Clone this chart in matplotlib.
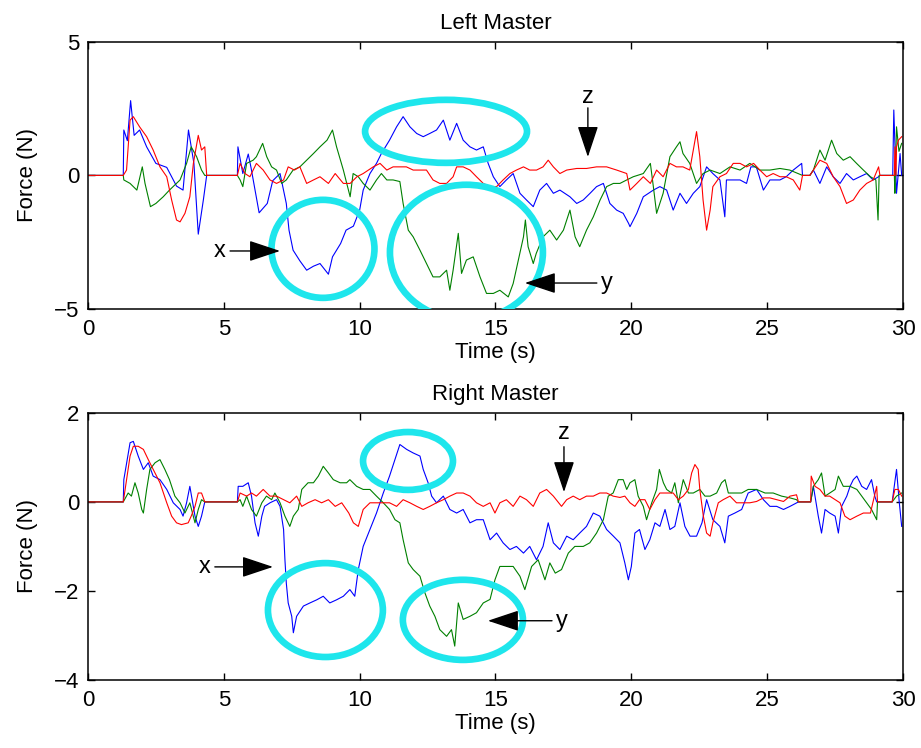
import numpy as np
import matplotlib
matplotlib.use("Agg")
import matplotlib.pyplot as plt
from matplotlib.patches import Ellipse

plt.rcParams["font.family"] = ["Liberation Sans", "DejaVu Sans"]
plt.rcParams["font.size"] = 16

# ============================================================
# DATA (time s, force N)
# ============================================================

left_x = [(0, 0), (1.3, 0), (1.32, 1.7), (1.45, 1.3), (1.57, 2.8), (1.7, 1.5), (1.9, 1.7), (2.16, 1.07),
          (2.5, 0.45), (2.9, 0.3), (3.26, -0.4), (3.5, -0.55), (3.7, 1.7), (3.9, 0.45), (4.06, -2.2),
          (4.25, -0.9), (4.37, 0), (5.5, 0), (5.52, 1.07), (5.7, 0.07), (5.9, 0.8), (6.0, 0.3), (6.3, -1.4),
          (6.6, -1.05), (6.8, -0.2), (7.07, 0.07), (7.3, -1.05), (7.4, -2.05), (7.55, -2.8), (7.8, -3.2),
          (8.05, -3.55), (8.3, -3.4), (8.54, -3.3), (8.85, -3.7), (9.0, -3.05), (9.3, -2.55), (9.5, -2.05),
          (9.77, -1.9), (10.0, -1.3), (10.13, -0.55), (10.38, 0.07), (10.62, 0.45), (10.8, 0.82), (11.1, 1.32),
          (11.36, 1.82), (11.6, 2.2), (11.85, 1.82), (12.1, 1.57), (12.34, 1.45), (12.58, 1.57), (12.83, 1.7),
          (13.08, 2.07), (13.32, 1.32), (13.57, 1.95), (13.81, 1.32), (14.06, 1.07), (14.3, 0.95), (14.55, 1.07),
          (14.73, 0.45), (14.92, -0.05), (15.16, -0.42), (15.4, -0.17), (15.65, 0.07), (15.9, -0.67),
          (16.14, -0.92), (16.39, -1.17), (16.63, -0.55), (16.88, -0.3), (17.13, -0.67), (17.37, -0.55),
          (17.74, -0.8), (17.99, -1.05), (18.23, -0.92), (18.48, -0.67), (18.72, -0.42), (18.97, -0.3),
          (19.21, -1.05), (19.46, -1.3), (19.7, -1.42), (19.9, -1.8), (19.95, -1.92), (20.2, -1.42),
          (20.44, -0.8), (20.81, -0.55), (21.05, -0.42), (21.3, -0.55), (21.54, -1.3), (21.79, -0.67),
          (22.03, -1.05), (22.28, -0.67), (22.52, -0.42), (22.77, 0.32), (23.0, 0.07), (23.26, -0.17),
          (23.44, -1.55), (23.5, -0.17), (23.75, -0.17), (24.0, -0.17), (24.24, -0.3), (24.4, 0.32),
          (24.6, 0.32), (24.86, -0.55), (25.1, -0.17), (25.47, -0.17), (25.7, -0.05), (25.96, 0.2),
          (26.27, 0.45), (26.3, 0), (26.57, 0), (26.7, 0.2), (26.94, -0.3), (27.19, 0.32), (27.43, -0.05),
          (27.68, -0.3), (27.92, 0.07), (28.17, -0.17), (28.41, -0.05), (28.66, 0.07), (28.9, -0.17),
          (29.1, -0.05), (29.15, 0), (29.62, 0), (29.66, 2.45), (29.76, -0.67), (29.89, 0.82), (29.95, 0)]

left_y = [(0, 0), (1.3, 0), (1.32, -0.17), (1.55, -0.3), (1.8, -0.55), (2.0, 0.32), (2.1, -0.3), (2.3, -1.17),
          (2.5, -1.05), (2.77, -0.8), (3.0, -0.55), (3.26, -0.3), (3.39, -0.17), (3.63, 0.45), (3.8, 1.07),
          (4.0, 0.7), (4.18, 0.2), (4.3, 0), (5.5, 0), (5.6, -0.17), (5.7, -0.42), (5.84, 0.45), (6.08, 0.57),
          (6.2, 0.7), (6.43, 1.2), (6.58, 0.7), (6.76, 0.32), (6.94, 0.2), (7.13, -0.3), (7.3, -0.17),
          (7.55, 0.2), (7.8, 0.32), (8.05, 0.57), (8.3, 0.82), (8.54, 1.07), (8.8, 1.32), (9.0, 1.7),
          (9.15, 1.07), (9.4, 0.2), (9.65, -0.8), (9.76, 0.07), (9.95, -0.05), (10.13, -0.3), (10.38, -0.55),
          (10.62, -0.17), (10.8, 0.07), (11.0, -0.17), (11.23, -0.17), (11.48, -0.23), (11.6, -1.05),
          (11.79, -2.05), (11.97, -2.3), (12.22, -2.8), (12.46, -3.3), (12.7, -3.8), (12.95, -3.8),
          (13.2, -3.55), (13.32, -4.3), (13.44, -3.55), (13.63, -2.17), (13.75, -3.67), (13.93, -3.17),
          (14.18, -3.05), (14.43, -3.8), (14.67, -4.42), (14.92, -4.42), (15.16, -4.3), (15.47, -4.55),
          (15.65, -4.05), (15.84, -3.17), (16.03, -2.3), (16.1, -1.67), (16.2, -2.67), (16.39, -3.3),
          (16.5, -2.92), (16.75, -2.3), (17.0, -2.05), (17.25, -2.42), (17.5, -2.05), (17.74, -1.3),
          (17.93, -2.3), (18.1, -2.67), (18.35, -2.05), (18.6, -1.55), (18.85, -0.92), (19.09, -0.42),
          (19.34, -0.3), (19.58, -0.3), (19.83, -0.17), (20.07, -0.05), (20.44, 0.07), (20.7, 0.45),
          (20.81, -0.42), (20.93, -1.42), (21.17, -0.67), (21.42, 0.7), (21.66, 1.07), (21.79, 1.26),
          (21.9, 0.82), (22.15, 0.45), (22.4, -0.3), (22.64, 0.07), (22.9, 0.2), (23.26, 0.07), (23.63, 0.32),
          (24.0, 0.2), (24.36, 0.45), (24.73, 0.2), (25.1, 0.2), (25.47, 0.26), (25.83, 0.2), (26.3, 0),
          (26.57, 0), (26.7, 0.2), (26.94, 0.95), (27.13, 0.57), (27.37, 1.32), (27.56, 0.82), (27.8, 0.57),
          (28.05, 0.7), (28.29, 0.45), (28.54, 0.2), (28.8, -0.05), (29.0, -0.17), (29.08, -1.67), (29.12, 0),
          (29.68, 0), (29.7, -0.67), (29.76, 1.82), (29.85, 0.9), (29.95, 1.2)]

left_z = [(0, 0), (1.3, 0), (1.42, 0.2), (1.55, 2.07), (1.67, 2.2), (1.9, 1.82), (2.16, 1.45), (2.4, 0.95),
          (2.65, 0.32), (2.9, -0.05), (3.08, -0.92), (3.26, -1.67), (3.39, -1.74), (3.57, -1.42), (3.75, -0.8),
          (3.88, 0.45), (4.06, 1.5), (4.18, 0.95), (4.3, 1.07), (4.37, 0), (5.5, 0), (5.6, 0.45), (5.78, 0.07),
          (5.96, -0.05), (6.2, 0.45), (6.45, 0.2), (6.7, -0.17), (6.94, -0.3), (7.2, -0.17), (7.37, 0.32),
          (7.6, 0.2), (7.8, 0.32), (8.05, -0.3), (8.3, -0.17), (8.54, -0.05), (8.85, -0.3), (9.1, 0.07),
          (9.4, -0.3), (9.65, -0.3), (9.9, -0.05), (10.13, 0.07), (10.5, 0.32), (10.75, 0.45), (11.0, 0.2),
          (11.23, 0.32), (11.48, 0.32), (11.72, 0.32), (11.97, 0.2), (12.22, 0.2), (12.46, 0.2), (12.7, -0.17),
          (12.95, -0.3), (13.2, -0.3), (13.44, -0.05), (13.57, 0.32), (13.81, 0.32), (14.06, 0.2), (14.3, -0.05),
          (14.55, -0.3), (14.8, -0.42), (15.04, -0.42), (15.28, -0.17), (15.53, 0.07), (15.77, 0.2),
          (16.03, 0.32), (16.26, 0.2), (16.51, 0.2), (16.75, 0.32), (16.94, 0.57), (17.13, 0.32), (17.37, 0.07),
          (17.62, 0.2), (17.99, 0.26), (18.35, 0.26), (18.72, 0.32), (19.09, 0.32), (19.46, 0.2), (19.83, 0.07),
          (19.95, -0.55), (20.2, -0.3), (20.44, -0.05), (20.7, -0.3), (20.93, 0.2), (21.17, -0.05),
          (21.42, 0.45), (21.66, 0.32), (21.9, 0.32), (22.15, 0.2), (22.28, 0.95), (22.4, 1.64), (22.52, 0.7),
          (22.64, -0.92), (22.77, -2.05), (22.9, -1.3), (23.0, -0.42), (23.26, -0.05), (23.5, 0.07),
          (23.75, 0.45), (24.0, 0.45), (24.24, 0.32), (24.5, 0.45), (24.73, 0.2), (24.98, -0.05), (25.22, 0.07),
          (25.47, -0.05), (25.7, -0.05), (25.96, -0.17), (26.2, -0.55), (26.3, 0), (26.57, 0), (26.7, 0.2),
          (26.94, 0.57), (27.19, 0.45), (27.43, -0.05), (27.68, -0.42), (27.92, -1.05), (28.17, -0.92),
          (28.41, -0.55), (28.66, -0.3), (28.9, -0.17), (29.1, 0.32), (29.15, 0), (29.68, 0), (29.7, 1.07),
          (29.74, 0), (29.76, 1.07), (29.83, 1.32), (29.95, 1.45)]

right_x = [(0, 0), (1.3, 0), (1.32, 0.5), (1.55, 1.33), (1.67, 1.36), (1.85, 1.03), (2.04, 0.73), (2.22, 0.88),
           (2.4, 0.58), (2.65, 0.5), (2.9, 0.28), (3.14, -0.02), (3.39, -0.17), (3.5, -0.32), (3.63, -0.02),
           (3.75, 0.35), (3.94, -0.32), (4.06, -0.55), (4.18, -0.32), (4.3, 0), (5.5, 0), (5.53, 0.35),
           (5.7, 0.35), (5.9, 0.43), (6.02, 0.13), (6.15, -0.47), (6.27, -0.77), (6.4, -0.32), (6.5, -0.1),
           (6.7, -0.02), (6.94, 0.05), (7.07, -0.1), (7.2, -0.62), (7.25, -1.3), (7.3, -1.82), (7.37, -2.27),
           (7.5, -2.57), (7.56, -2.94), (7.68, -2.57), (7.93, -2.34), (8.17, -2.27), (8.42, -2.2), (8.66, -2.12),
           (8.9, -2.27), (9.15, -2.2), (9.4, -2.12), (9.64, -1.97), (9.82, -2.12), (9.95, -1.52), (10.13, -1.0),
           (10.38, -0.62), (10.62, -0.25), (10.87, 0.2), (11.1, 0.58), (11.3, 0.95), (11.48, 1.29), (11.73, 1.18),
           (11.97, 1.1), (12.22, 1.03), (12.34, 0.73), (12.52, 0.43), (12.65, 0.13), (12.83, -0.02), (13.08, 0.13),
           (13.32, -0.17), (13.57, -0.25), (13.81, -0.17), (14.06, -0.47), (14.3, -0.4), (14.55, -0.4),
           (14.8, -0.85), (15.04, -0.7), (15.28, -0.92), (15.53, -1.07), (15.77, -1.0), (16.03, -1.15),
           (16.26, -1.0), (16.51, -1.3), (16.75, -1.0), (16.94, -0.47), (17.13, -0.92), (17.37, -1.07),
           (17.62, -0.77), (17.86, -0.85), (18.1, -0.7), (18.35, -0.55), (18.6, -0.25), (18.84, -0.32),
           (19.09, -0.62), (19.34, -0.77), (19.58, -0.92), (19.76, -1.37), (19.89, -1.75), (20.0, -1.45),
           (20.13, -0.7), (20.3, -0.62), (20.5, -1.07), (20.68, -0.85), (20.87, -0.47), (21.05, -0.55),
           (21.24, -0.17), (21.42, -0.62), (21.6, -0.55), (21.79, -0.02), (21.97, -0.55), (22.16, -0.77),
           (22.4, -0.77), (22.6, -0.47), (22.77, 0.05), (23.0, -0.4), (23.26, -0.55), (23.44, -0.92),
           (23.57, -0.32), (23.81, -0.25), (24.06, -0.17), (24.3, 0.2), (24.61, 0.28), (24.86, 0.05),
           (25.1, -0.1), (25.35, -0.1), (25.6, -0.17), (25.84, -0.1), (26.15, 0), (26.6, 0), (26.7, 0.35),
           (26.88, -0.32), (27.0, -0.7), (27.13, -0.17), (27.3, -0.25), (27.5, -0.32), (27.62, -0.7),
           (27.74, -0.1), (27.93, 0.13), (28.05, 0.35), (28.17, 0.5), (28.3, 0.58), (28.48, 0.35), (28.66, 0.28),
           (28.84, 0.5), (28.96, 0.13), (29.03, 0), (29.6, 0), (29.76, 0.73), (29.86, 0), (29.95, -0.55)]

right_y = [(0, 0), (1.3, 0), (1.48, 0.2), (1.6, 0.13), (1.73, 0.43), (1.85, 0.2), (1.98, -0.17), (2.04, -0.25),
           (2.16, 0.28), (2.28, 0.73), (2.47, 0.88), (2.65, 0.95), (2.83, 0.73), (3.0, 0.5), (3.2, 0.13),
           (3.39, -0.02), (3.57, -0.25), (3.75, -0.02), (3.94, -0.47), (4.06, -0.17), (4.18, 0.05), (4.3, 0),
           (5.5, 0), (5.6, 0.05), (5.7, -0.1), (5.84, 0.13), (6.02, -0.17), (6.2, -0.32), (6.4, -0.02),
           (6.57, 0.13), (6.76, 0.05), (6.88, 0.2), (7.07, -0.02), (7.25, -0.32), (7.43, -0.55), (7.56, -0.32),
           (7.74, -0.17), (7.87, 0.28), (8.1, 0.43), (8.3, 0.43), (8.48, 0.58), (8.66, 0.8), (8.85, 0.65),
           (9.03, 0.5), (9.28, 0.43), (9.52, 0.43), (9.64, 0.5), (9.89, 0.35), (10.13, 0.28), (10.38, 0.28),
           (10.62, 0.13), (10.87, -0.02), (11.1, -0.17), (11.3, -0.4), (11.48, -0.47), (11.6, -0.85),
           (11.79, -1.37), (11.97, -1.52), (12.22, -1.67), (12.4, -2.04), (12.58, -2.34), (12.77, -2.57),
           (12.95, -2.87), (13.2, -3.02), (13.38, -2.87), (13.5, -3.24), (13.63, -2.27), (13.81, -2.64),
           (14.06, -2.57), (14.3, -2.49), (14.55, -2.27), (14.8, -2.19), (14.98, -1.75), (15.16, -1.45),
           (15.4, -1.45), (15.65, -1.45), (15.9, -1.67), (16.08, -1.97), (16.33, -1.45), (16.57, -1.3),
           (16.82, -1.75), (17.0, -1.37), (17.2, -1.6), (17.43, -1.52), (17.68, -1.15), (17.92, -1.0),
           (18.23, -1.0), (18.47, -0.92), (18.72, -0.7), (18.97, -0.4), (19.15, 0.13), (19.33, 0.2),
           (19.52, 0.5), (19.7, 0.5), (19.83, 0.28), (19.95, 0.43), (20.13, 0.5), (20.25, 0.13), (20.44, -0.1),
           (20.56, -0.4), (20.75, -0.02), (20.93, 0.28), (21.03, 0.73), (21.18, 0.43), (21.3, 0.28),
           (21.48, 0.2), (21.6, 0.43), (21.73, -0.02), (21.91, 0.5), (22.1, 0.2), (22.28, 0.2), (22.52, 0.28),
           (22.71, 0.13), (22.9, 0.13), (23.14, 0.2), (23.32, 0.43), (23.45, 0.5), (23.57, 0.2), (23.81, 0.2),
           (24.06, 0.2), (24.3, 0.28), (24.61, 0.28), (24.92, 0.2), (25.22, 0.2), (25.53, 0.13), (25.84, 0.09),
           (26.08, 0.05), (26.15, 0), (26.6, 0), (26.7, 0.35), (26.88, 0.5), (27.0, 0.65), (27.13, 0.13),
           (27.3, 0.2), (27.5, 0.28), (27.62, 0.58), (27.8, 0.35), (28.05, 0.35), (28.3, 0.28), (28.48, 0.13),
           (28.66, -0.02), (28.84, -0.17), (29.03, -0.4), (29.06, 0), (29.6, 0), (29.76, 0.13), (29.95, 0.2)]

right_z = [(0, 0), (1.3, 0), (1.42, 0.5), (1.55, 1.03), (1.67, 1.25), (1.85, 1.25), (2.04, 1.18), (2.22, 0.95),
           (2.4, 0.73), (2.65, 0.43), (2.9, -0.02), (3.08, -0.32), (3.26, -0.47), (3.44, -0.51), (3.69, -0.47),
           (3.8, -0.32), (3.94, -0.1), (4.06, 0.2), (4.18, 0.2), (4.3, 0), (5.5, 0), (5.6, 0.2), (5.84, 0.13),
           (6.02, 0.2), (6.2, 0.13), (6.45, 0.28), (6.7, 0.13), (6.94, 0.13), (7.2, 0.05), (7.43, -0.02),
           (7.68, 0.13), (7.87, -0.1), (8.1, -0.02), (8.36, 0.05), (8.6, -0.02), (8.85, 0.05), (9.1, -0.1),
           (9.34, -0.02), (9.6, -0.25), (9.77, -0.47), (9.95, -0.55), (10.13, -0.17), (10.38, -0.02),
           (10.62, -0.02), (10.87, -0.02), (11.1, -0.02), (11.36, -0.1), (11.6, 0.05), (11.85, -0.02),
           (12.1, -0.1), (12.34, -0.17), (12.58, -0.1), (12.83, -0.02), (13.08, 0.05), (13.32, 0.13),
           (13.57, 0.2), (13.81, 0.2), (14.06, 0.13), (14.3, -0.02), (14.55, -0.1), (14.8, -0.02),
           (14.98, -0.25), (15.16, -0.02), (15.4, 0.05), (15.65, -0.1), (15.9, 0.13), (16.14, 0.05),
           (16.39, -0.1), (16.63, 0.2), (16.88, 0.28), (17.13, 0.13), (17.43, -0.1), (17.62, 0.05),
           (17.86, 0.13), (18.1, 0.05), (18.35, 0.13), (18.6, 0.13), (18.84, 0.2), (19.09, 0.2), (19.33, 0.13),
           (19.58, 0.1), (19.76, 0.13), (19.95, -0.02), (20.13, -0.1), (20.3, 0.05), (20.5, 0.05),
           (20.68, -0.17), (20.87, 0.05), (21.05, 0.2), (21.3, 0.2), (21.54, 0.2), (21.73, 0.05), (21.91, 0.13),
           (22.1, 0.28), (22.22, 0.65), (22.34, 0.84), (22.46, 0.73), (22.52, 0.28), (22.65, -0.32),
           (22.77, -0.7), (22.9, -0.77), (23.0, -0.47), (23.2, -0.02), (23.38, 0.05), (23.63, 0.13),
           (23.87, -0.02), (24.12, -0.02), (24.36, -0.02), (24.61, 0.01), (24.86, 0.09), (25.1, 0.09),
           (25.35, 0.05), (25.6, 0.01), (25.84, 0.13), (26.08, 0.16), (26.15, 0), (26.6, 0), (26.62, 0.58),
           (26.76, 0.35), (26.94, 0.28), (27.13, 0.13), (27.3, 0.13), (27.5, 0.05), (27.68, -0.02),
           (27.86, -0.32), (28.05, -0.4), (28.3, -0.32), (28.54, -0.25), (28.8, -0.25), (29.03, 0.35),
           (29.06, 0), (29.6, 0), (29.7, 0.28), (29.83, 0.28), (29.95, 0.13)]

panel_titles = ["Left Master", "Right Master"]
y_limits = [(-5, 5), (-4, 2)]
y_ticks = [[-5, 0, 5], [-4, -2, 0, 2]]

# highlight circles: (centre t, centre F, width s, height N)
left_rings = [(8.65, -2.75, 3.79, 3.67), (13.18, 1.65, 5.96, 2.36), (13.93, -2.88, 5.63, 5.06)]
right_rings = [(8.74, -2.43, 4.23, 2.11), (11.78, 0.92, 3.31, 1.30), (13.8, -2.65, 4.42, 1.80)]

# axis labels with arrows: (label, text pos, arrow tail, arrow head)
left_marks = [("x", (4.86, -2.83), (5.23, -2.83), (7.07, -2.83)),
              ("y", (19.1, -4.03), (18.73, -4.03), (16.08, -4.03)),
              ("z", (18.4, 2.94), (18.4, 2.53), (18.4, 0.69))]
right_marks = [("x", (4.31, -1.46), (4.67, -1.46), (6.81, -1.46)),
               ("y", (17.45, -2.67), (17.08, -2.67), (14.72, -2.67)),
               ("z", (17.52, 1.55), (17.52, 1.24), (17.52, 0.22))]

# ============================================================
# PLOT
# ============================================================

fig = plt.figure(figsize=(9.21, 7.48), dpi=100)
ax_top = fig.add_axes([0.0955, 0.587, 0.885, 0.357])
ax_bot = fig.add_axes([0.0955, 0.091, 0.885, 0.357])

panels = [
    (ax_top, [left_x, left_y, left_z], left_rings, left_marks),
    (ax_bot, [right_x, right_y, right_z], right_rings, right_marks),
]

for i, (ax, series, rings, marks) in enumerate(panels):
    for data, col in zip(series, ["#0000ff", "#008000", "#ff0000"]):
        arr = np.array(data)
        ax.plot(arr[:, 0], arr[:, 1], color=col, linewidth=0.8)

    for cx, cy, w, h in rings:
        ax.add_patch(Ellipse((cx, cy), w, h, fill=False, edgecolor="#1ee6ec", linewidth=4.8, zorder=5))

    for label, tpos, tail, head in marks:
        ax.annotate("", xy=head, xytext=tail,
                    arrowprops=dict(arrowstyle="-|>,head_length=1.5,head_width=0.5",
                                    color="k", lw=1, mutation_scale=13, shrinkA=0, shrinkB=0),
                    zorder=6)
        ax.text(tpos[0], tpos[1], label, ha="center", va="center", fontsize=17)

    ax.set_xlim(0, 30)
    ax.set_ylim(*y_limits[i])
    ax.set_yticks(y_ticks[i])
    ax.set_xticks(range(0, 31, 5))
    ax.tick_params(direction="in", top=True, right=True, length=5, width=1, labelsize=16)
    ax.tick_params(axis="x", pad=7)
    ax.tick_params(axis="y", pad=6)
    for s in ax.spines.values():
        s.set_linewidth(1.1)
    ax.set_title(panel_titles[i], fontsize=16, pad=9)
    ax.set_xlabel("Time (s)", fontsize=16, labelpad=2)
    ax.set_ylabel("Force (N)", fontsize=16, labelpad=12)

fig.savefig("out.png", dpi=100)
